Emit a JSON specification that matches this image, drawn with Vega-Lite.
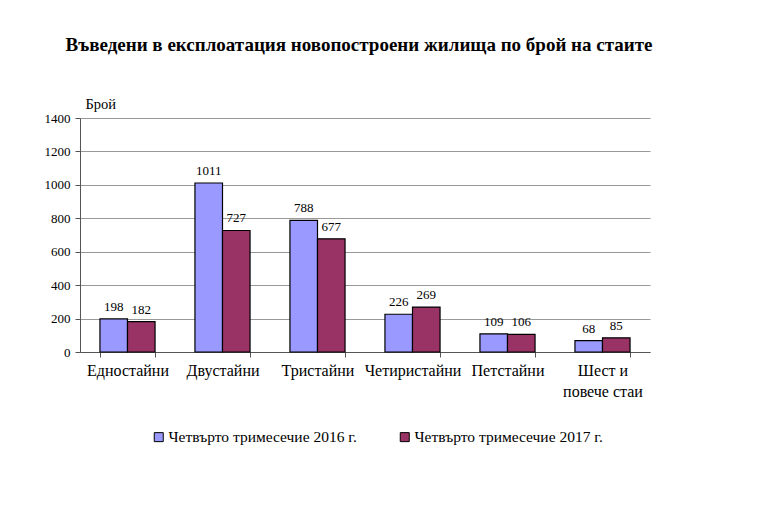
{
  "$schema": "https://vega.github.io/schema/vega-lite/v6.json",
  "width": 570,
  "height": 234,
  "autosize": {"type": "none"},
  "padding": {"left": 80, "top": 118, "right": 118, "bottom": 156},
  "background": "white",
  "title": {
    "text": "Въведени в експлоатация новопостроени жилища по брой на стаите",
    "font": "Liberation Serif",
    "fontSize": 19,
    "fontWeight": "bold",
    "color": "black",
    "anchor": "middle",
    "dx": -6,
    "offset": 41
  },
  "data": {
    "values": [
      {"cat": "Едностайни", "period": "Четвърто тримесечие 2016 г.", "value": 198},
      {"cat": "Едностайни", "period": "Четвърто тримесечие 2017 г.", "value": 182},
      {"cat": "Двустайни", "period": "Четвърто тримесечие 2016 г.", "value": 1011},
      {"cat": "Двустайни", "period": "Четвърто тримесечие 2017 г.", "value": 727},
      {"cat": "Тристайни", "period": "Четвърто тримесечие 2016 г.", "value": 788},
      {"cat": "Тристайни", "period": "Четвърто тримесечие 2017 г.", "value": 677},
      {"cat": "Четиристайни", "period": "Четвърто тримесечие 2016 г.", "value": 226},
      {"cat": "Четиристайни", "period": "Четвърто тримесечие 2017 г.", "value": 269},
      {"cat": "Петстайни", "period": "Четвърто тримесечие 2016 г.", "value": 109},
      {"cat": "Петстайни", "period": "Четвърто тримесечие 2017 г.", "value": 106},
      {"cat": "Шест и повече стаи", "period": "Четвърто тримесечие 2016 г.", "value": 68},
      {"cat": "Шест и повече стаи", "period": "Четвърто тримесечие 2017 г.", "value": 85}
    ]
  },
  "encoding": {
    "x": {
      "field": "cat",
      "type": "nominal",
      "sort": null,
      "scale": {"paddingInner": 0.42, "paddingOuter": 0.21},
      "axis": {
        "title": null,
        "labelAngle": 0,
        "labelFont": "Liberation Serif",
        "labelFontSize": 16,
        "labelColor": "black",
        "labelPadding": 5,
        "labelExpr": "datum.label == 'Шест и повече стаи' ? ['Шест и', 'повече стаи'] : datum.label",
        "labelLineHeight": 21,
        "tickBand": "extent",
        "tickSize": 5,
        "tickColor": "#555",
        "domainColor": "#555",
        "grid": false
      }
    },
    "xOffset": {"field": "period", "type": "nominal"},
    "y": {
      "field": "value",
      "type": "quantitative",
      "scale": {"domain": [0, 1400]},
      "axis": {
        "values": [0, 200, 400, 600, 800, 1000, 1200, 1400],
        "format": "d",
        "title": "Брой",
        "titleAngle": 0,
        "titleAlign": "left",
        "titleBaseline": "bottom",
        "titleX": 5,
        "titleY": -7,
        "titleFont": "Liberation Serif",
        "titleFontSize": 14.5,
        "titleFontWeight": "normal",
        "titleColor": "black",
        "labelFont": "Liberation Serif",
        "labelFontSize": 13,
        "labelColor": "black",
        "labelPadding": 5,
        "tickSize": 5,
        "tickColor": "#555",
        "domainColor": "#555",
        "gridColor": "#999",
        "gridWidth": 1
      }
    }
  },
  "layer": [
    {
      "mark": {"type": "bar", "stroke": "black", "strokeWidth": 1.2},
      "encoding": {
        "color": {
          "field": "period",
          "type": "nominal",
          "scale": {"range": ["#9999FF", "#993366"]},
          "legend": {
            "title": null,
            "orient": "none",
            "direction": "horizontal",
            "legendX": 71,
            "legendY": 311,
            "symbolType": "square",
            "symbolSize": 81,
            "symbolStrokeColor": "black",
            "symbolStrokeWidth": 1,
            "labelFont": "Liberation Serif",
            "labelFontSize": 15.5,
            "labelColor": "black",
            "labelLimit": 400,
            "labelOffset": 2,
            "columnPadding": 40
          }
        }
      }
    },
    {
      "mark": {"type": "text", "dy": -12, "font": "Liberation Serif", "fontSize": 13, "fill": "black"},
      "encoding": {
        "text": {"field": "value", "type": "quantitative", "format": "d"}
      }
    }
  ],
  "config": {
    "view": {"stroke": null}
  }
}
